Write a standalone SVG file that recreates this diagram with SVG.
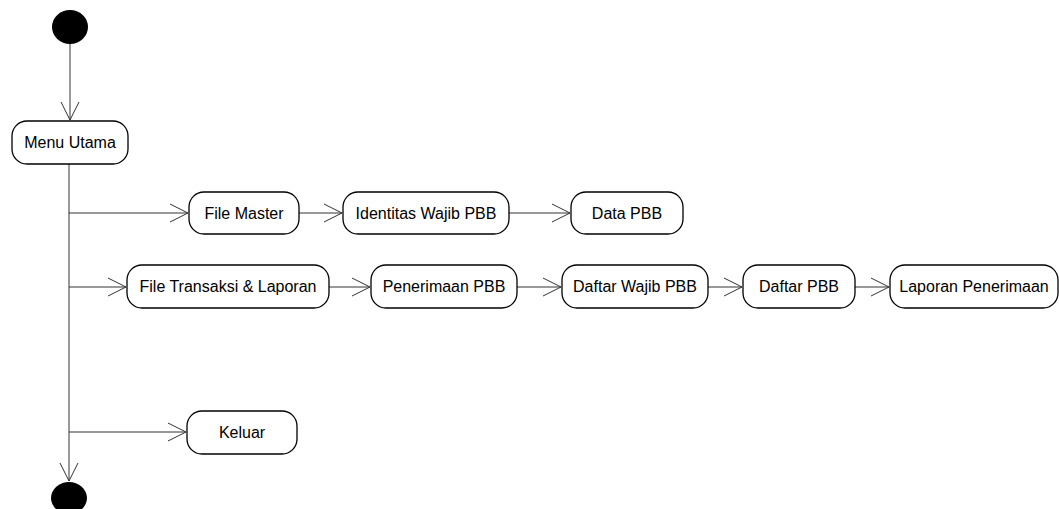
<svg xmlns="http://www.w3.org/2000/svg" width="1059" height="509" viewBox="0 0 1059 509">
<defs>
<marker id="open" viewBox="0 0 20 20" refX="18" refY="10" markerWidth="20" markerHeight="20" markerUnits="userSpaceOnUse" orient="auto">
<path d="M0,1 L18,10 L0,19" fill="none" stroke="#333" stroke-width="1"/>
</marker>
<style>
.n rect{fill:#fff;stroke:#000;stroke-width:1.3}
.n text{font-family:"Liberation Sans",Arial,sans-serif;font-size:16px;fill:#000;text-anchor:middle;dominant-baseline:central}
.c line{stroke:#333;stroke-width:1;marker-end:url(#open)}
.c line.p{marker-end:none}
.dot{fill:#000}
</style>
</defs>
<rect width="1059" height="509" fill="#fff"/>
<g id="connectors" class="c">
<line x1="70" y1="43" x2="70" y2="120"/>
<line class="p" x1="69" y1="164" x2="69" y2="432"/>
<line x1="69" y1="432" x2="69" y2="481"/>
<line x1="69" y1="213" x2="188" y2="213"/>
<line x1="299" y1="213" x2="342" y2="213"/>
<line x1="509" y1="213" x2="570" y2="213"/>
<line x1="69" y1="287" x2="126" y2="287"/>
<line x1="329" y1="287" x2="370" y2="287"/>
<line x1="517" y1="287" x2="561" y2="287"/>
<line x1="708" y1="287" x2="742" y2="287"/>
<line x1="855" y1="287" x2="889" y2="287"/>
<line x1="69" y1="432" x2="186" y2="432"/>
</g>
<g id="start"><ellipse class="dot" cx="70" cy="27" rx="18" ry="17"/></g>
<g id="end"><ellipse class="dot" cx="69" cy="498" rx="18" ry="16"/></g>
<g id="menu-utama" class="n"><rect x="12" y="121" width="116" height="43" rx="15"/><text x="70" y="142.5">Menu Utama</text></g>
<g id="file-master" class="n"><rect x="189" y="192" width="110" height="42" rx="15"/><text x="244" y="213">File Master</text></g>
<g id="identitas" class="n"><rect x="343" y="192" width="166" height="42" rx="15"/><text x="426" y="213">Identitas Wajib PBB</text></g>
<g id="data-pbb" class="n"><rect x="571" y="192" width="112" height="42" rx="15"/><text x="627" y="213">Data PBB</text></g>
<g id="file-transaksi" class="n"><rect x="127" y="265" width="202" height="43" rx="15"/><text x="228" y="286.5">File Transaksi &amp; Laporan</text></g>
<g id="penerimaan" class="n"><rect x="371" y="265" width="146" height="43" rx="15"/><text x="444" y="286.5">Penerimaan PBB</text></g>
<g id="daftar-wajib" class="n"><rect x="562" y="265" width="146" height="43" rx="15"/><text x="635" y="286.5">Daftar Wajib PBB</text></g>
<g id="daftar-pbb" class="n"><rect x="743" y="265" width="112" height="43" rx="15"/><text x="799" y="286.5">Daftar PBB</text></g>
<g id="laporan" class="n"><rect x="890" y="265" width="168" height="43" rx="15"/><text x="974" y="286.5">Laporan Penerimaan</text></g>
<g id="keluar" class="n"><rect x="187" y="411" width="110" height="43" rx="15"/><text x="242" y="432.5">Keluar</text></g>
</svg>
